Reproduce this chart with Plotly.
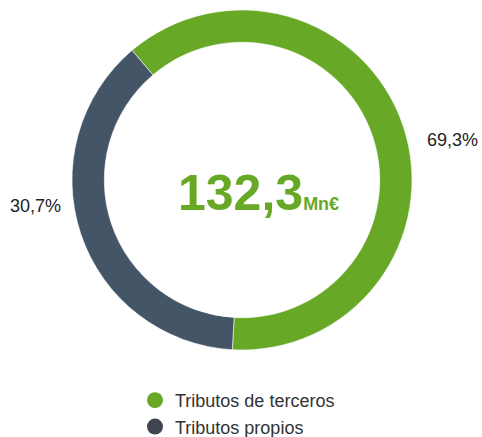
import plotly.graph_objects as go

categories = ["Tributos de terceros", "Tributos propios"]
share_labels = ["69,3%", "30,7%"]
arc_values = [62.1, 37.9]          # arc sizes as drawn in the picture
colors = ["#67A827", "#435566"]
legend_colors = ["#67A827", "#3E4550"]
center_value = "132,3"
center_unit = "Mn€"

W = 482
HF = 450          # figure a bit taller than the window so the legend needs no extra margin
cx, cy, R = 242, 180, 170


def py(y):
    return 1 - y / HF


fig = go.Figure()
fig.add_trace(go.Pie(
    labels=categories, values=arc_values,
    marker=dict(colors=colors, line=dict(color="white", width=0.6)),
    hole=0.81, sort=False, direction="clockwise", rotation=-40.3,
    textinfo="none", hoverinfo="label", showlegend=False,
    domain=dict(x=[(cx - R) / W, (cx + R) / W], y=[py(cy + R), py(cy - R)]),
))

for name, col in zip(categories, legend_colors):
    fig.add_trace(go.Scatter(x=[None], y=[None], mode="markers", name=name,
                             marker=dict(color=col, size=16, symbol="circle")))

label_pos = [(452, 140), (35, 206)]
for txt, (px, yy) in zip(share_labels, label_pos):
    fig.add_annotation(x=px / W, y=py(yy), xref="paper", yref="paper",
                       text=txt, showarrow=False, xanchor="center", yanchor="middle",
                       font=dict(family="Liberation Sans, Arial", size=18, color="#222222"))

fig.add_annotation(x=258 / W, y=py(193), xref="paper", yref="paper", showarrow=False,
                   xanchor="center", yanchor="middle",
                   text=f"<b>{center_value}</b><b><span style='font-size:18px'>{center_unit}</span></b>",
                   font=dict(family="Liberation Sans, Arial", size=50, color="#67A827"))

fig.update_layout(
    width=W, height=HF, margin=dict(l=0, r=0, t=0, b=0),
    paper_bgcolor="white", plot_bgcolor="white",
    xaxis=dict(visible=False), yaxis=dict(visible=False),
    legend=dict(x=135 / W, y=py(382), xanchor="left", yanchor="top",
                font=dict(family="Liberation Sans, Arial", size=18, color="#333333"),
                itemwidth=30, bgcolor="rgba(0,0,0,0)"),
)
fig.write_html("out.html", config={"displayModeBar": False},
               post_script="document.body.style.margin='0';document.body.style.padding='0';"
                           "document.body.style.overflow='hidden';"
                           "document.documentElement.style.overflow='hidden';")
